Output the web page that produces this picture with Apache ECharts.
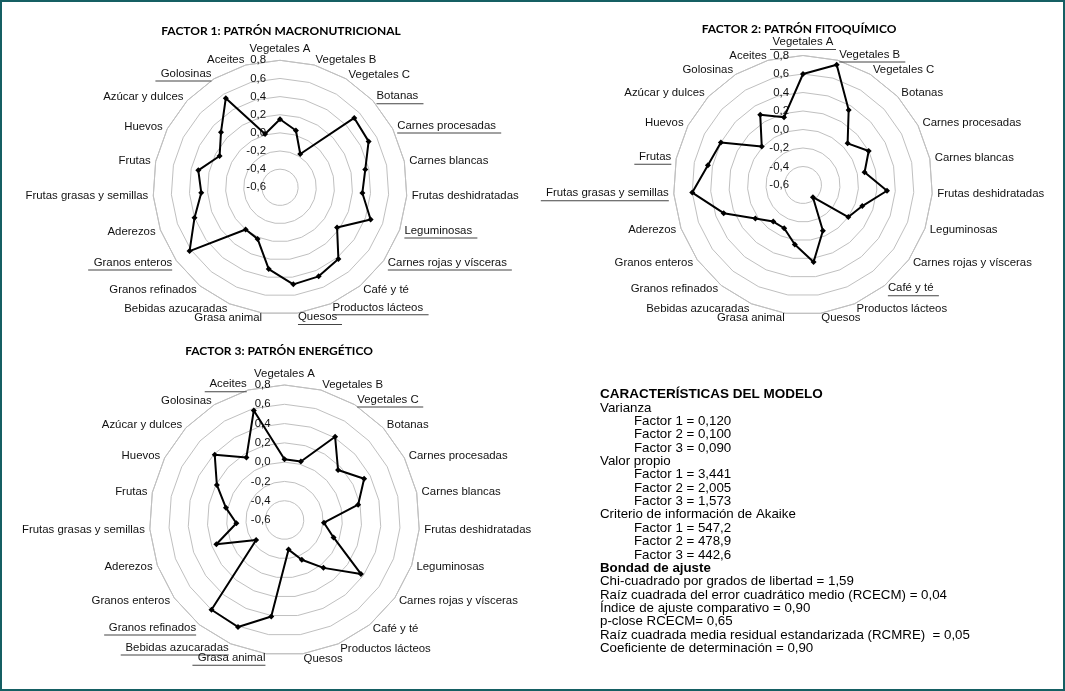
<!DOCTYPE html>
<html><head><meta charset="utf-8">
<script src="https://cdn.jsdelivr.net/npm/echarts@6/dist/echarts.min.js"></script>
<style>html,body{margin:0;padding:0;background:#fff}#c{width:1065px;height:691px}</style>
</head><body><div id="c"></div>
<script>
// ---- data ----
const categories = ['Vegetales A','Vegetales B','Vegetales C','Botanas','Carnes procesadas','Carnes blancas',
  'Frutas deshidratadas','Leguminosas','Carnes rojas y vísceras','Café y té','Productos lácteos','Quesos',
  'Grasa animal','Bebidas azucaradas','Granos refinados','Granos enteros','Aderezos','Frutas grasas y semillas',
  'Frutas','Huevos','Azúcar y dulces','Golosinas','Aceites'];
const factor1 = [0.15, 0.05, -0.17, 0.52, 0.50, 0.36, 0.31, 0.46, 0.17, 0.42, 0.47, 0.48, 0.31, 0.02, 0.00, 0.62, 0.40, 0.27, 0.32, 0.15, 0.29, 0.55, 0.01];
const factor2 = [0.60, 0.75, 0.35, 0.06, 0.20, 0.08, 0.31, 0.08, 0.00, -0.43, -0.06, 0.24, 0.05, -0.09, -0.09, 0.03, 0.31, 0.60, 0.45, 0.40, 0.01, 0.29, 0.16];
const factor3 = [0.03, 0.03, 0.41, 0.16, 0.33, 0.18, -0.19, -0.06, 0.37, 0.04, -0.15, -0.29, 0.41, 0.61, 0.60, -0.24, 0.15, -0.10, 0.02, 0.19, 0.39, 0.16, 0.58];
const tickMin = -0.6, tickMax = 0.8, tickCount = 7;
const titles = ['FACTOR 1: PATRÓN MACRONUTRICIONAL','FACTOR 2: PATRÓN FITOQUÍMICO','FACTOR 3: PATRÓN ENERGÉTICO'];
const underlined1 = ['Golosinas','Botanas','Carnes procesadas','Leguminosas','Carnes rojas y vísceras','Granos enteros','Productos lácteos','Quesos'];
const underlined2 = ['Vegetales A','Vegetales B','Frutas','Frutas grasas y semillas','Café y té'];
const underlined3 = ['Aceites','Vegetales C','Granos refinados','Bebidas azucaradas','Grasa animal'];
const modelTitle = 'CARACTERÍSTICAS DEL MODELO';
const modelLines = [
  ['Varianza',0,0],['Factor 1 = 0,120',1,0],['Factor 2 = 0,100',1,0],['Factor 3 = 0,090',1,0],
  ['Valor propio',0,0],['Factor 1 = 3,441',1,0],['Factor 2 = 2,005',1,0],['Factor 3 = 1,573',1,0],
  ['Criterio de información de Akaike',0,0],['Factor 1 = 547,2',1,0],['Factor 2 = 478,9',1,0],['Factor 3 = 442,6',1,0],
  ['Bondad de ajuste',0,1],
  ['Chi-cuadrado por grados de libertad = 1,59',0,0],
  ['Raíz cuadrada del error cuadrático medio (RCECM) = 0,04',0,0],
  ['Índice de ajuste comparativo = 0,90',0,0],
  ['p-close RCECM= 0,65',0,0],
  ['Raíz cuadrada media residual estandarizada (RCMRE)  = 0,05',0,0],
  ['Coeficiente de determinación = 0,90',0,0]
];

// ---- styles ----
const FF = '"Liberation Sans", Arial, sans-serif';
const LFS = 11.4;
const ctx = document.createElement('canvas').getContext('2d');
ctx.font = LFS + 'px ' + FF;

function order(arr){ return [arr[0]].concat(arr.slice(1).reverse()); }
function fmt(v){ if (Math.abs(v) < 1e-9) v = 0; return v.toFixed(1).replace('.', ','); }

function makeRadar(center, radius, underlined){
  const names = order(categories);
  const rich = { t: {fontSize: LFS, fontFamily: FF, color: '#111', lineHeight: 13} };
  names.forEach((n, i) => {
    if (underlined.includes(n)) {
      rich['u' + i] = {width: Math.round(ctx.measureText(n).width) + 5, height: 1, lineHeight: 2, backgroundColor: '#444', fontSize: 1};
    }
  });
  return {
    center: center, radius: radius, startAngle: 90, splitNumber: tickCount, shape: 'polygon',
    indicator: names.map((n, i) => ({
      name: n, min: tickMin, max: tickMax,
      axisLabel: i === 0 ? {show: true, fontSize: LFS, fontFamily: FF, color: '#111', margin: 14, formatter: fmt} : {show: false}
    })),
    axisName: {
      formatter: function (v) {
        const i = names.indexOf(v);
        return underlined.includes(v) ? '{t|' + v + '}\n{u' + i + '| }' : '{t|' + v + '}';
      },
      rich: rich
    },
    nameGap: 5,
    axisLine: {show: false}, axisTick: {show: false},
    splitLine: {lineStyle: {color: '#c0c0c0', width: 1}},
    splitArea: {show: false},
    axisLabel: {show: false}
  };
}

const seriesStyle = {
  type: 'radar', symbol: 'diamond', symbolSize: 6,
  lineStyle: {color: '#000', width: 2}, itemStyle: {color: '#000'}
};

const graphic = [
  {type: 'rect', shape: {x: 1, y: 1, width: 1063, height: 689}, style: {fill: 'none', stroke: '#155f63', lineWidth: 2}, silent: true}
];
const titlePos = [[281, 31], [799, 29], [279, 351]];
titles.forEach((t, i) => graphic.push({type: 'text', x: titlePos[i][0], y: titlePos[i][1],
  style: {text: t, font: 'bold 12px Lato, "Open Sans", sans-serif', fill: '#000', align: 'center', verticalAlign: 'middle'}}));
graphic.push({type: 'text', x: 600, y: 394, style: {text: modelTitle, font: 'bold 13.5px ' + FF, fill: '#000', verticalAlign: 'middle'}});
modelLines.forEach((l, i) => graphic.push({type: 'text', x: 600 + l[1] * 34, y: 408 + i * 13.35,
  style: {text: l[0], font: (l[2] ? 'bold ' : '') + '13.3px ' + FF, fill: '#000', verticalAlign: 'middle'}}));

const chart = echarts.init(document.getElementById('c'), null, {renderer: 'canvas'});
chart.setOption({
  animation: false,
  backgroundColor: '#fff',
  radar: [
    makeRadar([280, 187.3], 127, underlined1),
    makeRadar([803, 185], 129.5, underlined2),
    makeRadar([284.5, 520], 135, underlined3)
  ],
  series: [
    Object.assign({radarIndex: 0, data: [{value: order(factor1)}]}, seriesStyle),
    Object.assign({radarIndex: 1, data: [{value: order(factor2)}]}, seriesStyle),
    Object.assign({radarIndex: 2, data: [{value: order(factor3)}]}, seriesStyle)
  ],
  graphic: graphic
});
</script></body></html>
